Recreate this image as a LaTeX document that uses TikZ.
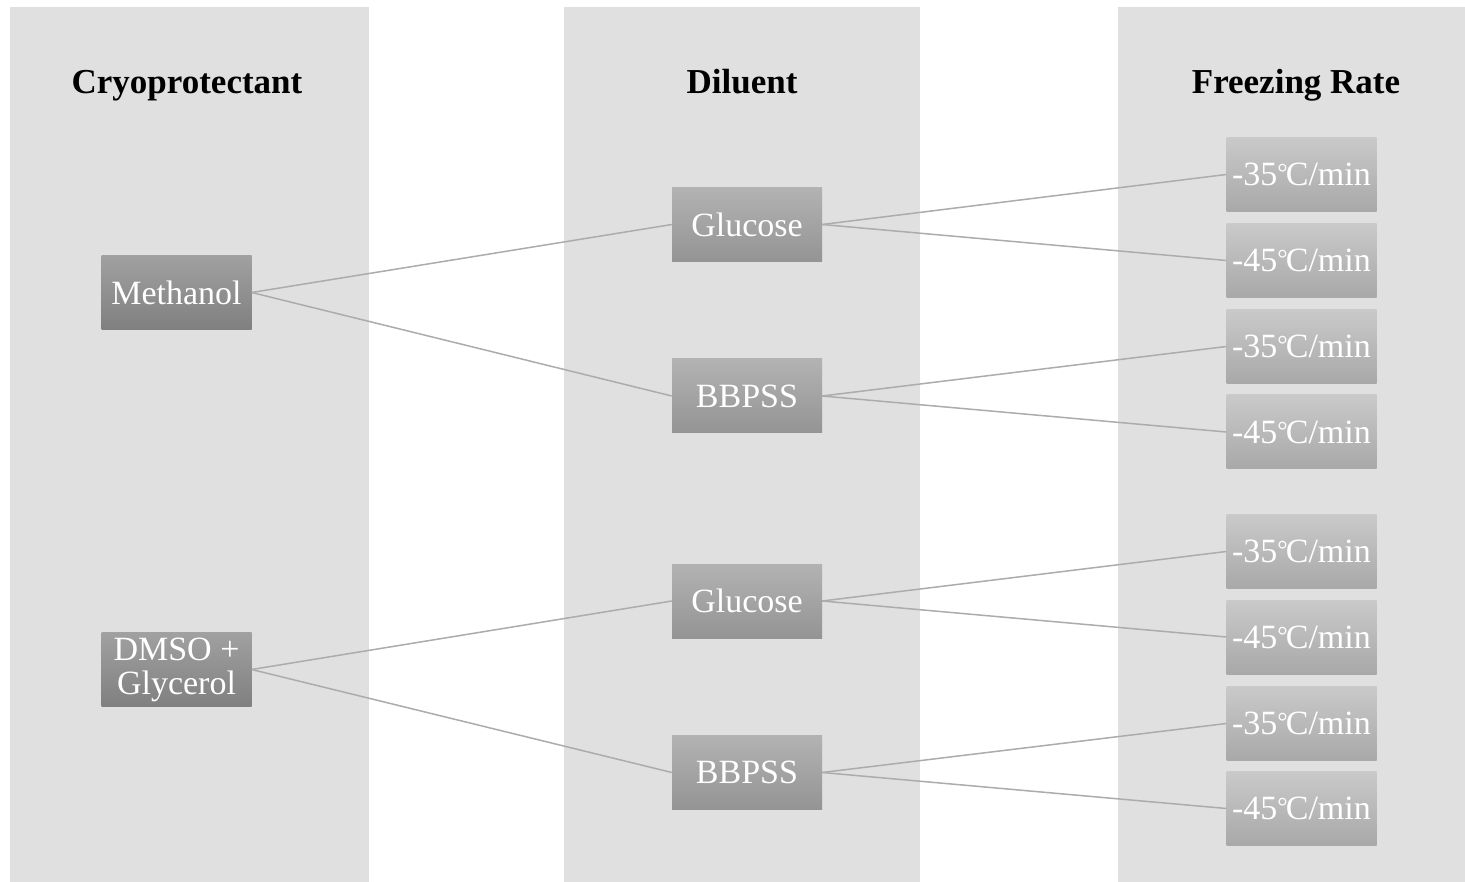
\documentclass[tikz,border=0pt]{standalone}
\usepackage{fontspec}
\setmainfont{Liberation Serif}
\usetikzlibrary{positioning}
\definecolor{colgray}{RGB}{224,224,224}
\definecolor{linegray}{RGB}{172,172,172}
\newcommand{\degC}{\raisebox{0.12em}{\fontsize{26}{26}\selectfont °}\kern-0.06em C}

\begin{document}
\begin{tikzpicture}[x=1pt,y=-1pt,inner sep=0pt]
\tikzstyle{column}=[fill=colgray, draw=none]
\tikzstyle{title}=[anchor=base, font=\fontsize{35}{40}\selectfont\bfseries]
\tikzstyle{box}=[rectangle, minimum width=150pt, minimum height=74pt, text=white, font=\fontsize{34}{34}\selectfont, align=center]
\tikzstyle{agent}=[box, top color=black!37, bottom color=black!50]
\tikzstyle{diluent}=[box, top color=black!30, bottom color=black!42]
\tikzstyle{rate}=[box, top color=black!21, bottom color=black!34]
\tikzstyle{link}=[draw=linegray, line width=1.5pt]
\useasboundingbox[fill=white] (0,0) rectangle (1465,882);
% background columns
\fill[column] (10,7) rectangle (369,882);
\fill[column] (564,7) rectangle (920,882);
\fill[column] (1118,7) rectangle (1465,882);
% headers
\node[title] (hcryo) at (187,94) {Cryoprotectant};
\node[title] (hdil) at (742,94) {Diluent};
\node[title] (hrate) at (1296,94) {Freezing Rate};
% cryoprotectants
\node[agent] (meth) at (176.5,292.5) {Methanol};
\node[agent] (dmso) at (176.5,669.5) {DMSO +\\Glycerol};
% diluents
\node[diluent] (glua) at (747,224.5) {Glucose};
\node[diluent] (bba) at (747,396) {BBPSS};
\node[diluent] (glub) at (747,601) {Glucose};
\node[diluent] (bbb) at (747,772.5) {BBPSS};
% freezing rates
\node[rate] (r1) at (1301.5,174.5) {-35\degC/min};
\node[rate] (r2) at (1301.5,260.5) {-45\degC/min};
\node[rate] (r3) at (1301.5,346.5) {-35\degC/min};
\node[rate] (r4) at (1301.5,432) {-45\degC/min};
\node[rate] (r5) at (1301.5,551.5) {-35\degC/min};
\node[rate] (r6) at (1301.5,637) {-45\degC/min};
\node[rate] (r7) at (1301.5,723.5) {-35\degC/min};
\node[rate] (r8) at (1301.5,808.5) {-45\degC/min};
% links
\draw[link] (meth.east) -- (glua.west);
\draw[link] (meth.east) -- (bba.west);
\draw[link] (dmso.east) -- (glub.west);
\draw[link] (dmso.east) -- (bbb.west);
\draw[link] (glua.east) -- (r1.west);
\draw[link] (glua.east) -- (r2.west);
\draw[link] (bba.east) -- (r3.west);
\draw[link] (bba.east) -- (r4.west);
\draw[link] (glub.east) -- (r5.west);
\draw[link] (glub.east) -- (r6.west);
\draw[link] (bbb.east) -- (r7.west);
\draw[link] (bbb.east) -- (r8.west);
\end{tikzpicture}
\end{document}
